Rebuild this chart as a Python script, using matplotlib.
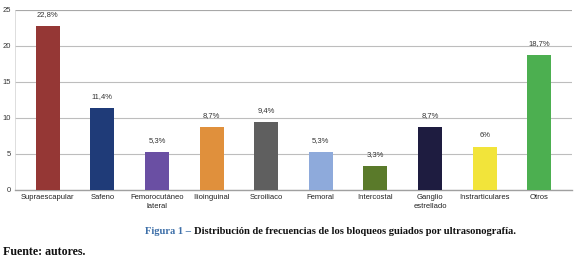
import matplotlib.pyplot as plt
import numpy as np

categorias = ["Supraescapular", "Safeno", "Femorocutáneo\nlateral", "Ilioinguinal",
              "Scroiliaco", "Femoral", "Intercostal", "Ganglio\nestrellado",
              "Instrarticulares", "Otros"]
valores = [22.8, 11.4, 5.3, 8.7, 9.4, 5.3, 3.3, 8.7, 6.0, 18.7]
etiquetas = ["22,8%", "11,4%", "5,3%", "8,7%", "9,4%", "5,3%", "3,3%", "8,7%", "6%", "18,7%"]
colores = ["#953735", "#1f3b78", "#6a4fa3", "#e0903c", "#5f5f5f",
           "#8eaadb", "#5a7a2a", "#1e1c40", "#f2e43a", "#4caf50"]
yticks = [0, 5, 10, 15, 20, 25]

plt.rcParams['font.family'] = ['Liberation Sans', 'DejaVu Sans']

fig = plt.figure(figsize=(5.79, 2.63), dpi=100)
ax = fig.add_axes([15/579, 1 - 190/263, 557/579, 180/263])

x = np.arange(len(categorias))
ax.bar(x, valores, width=0.44, color=colores, zorder=3)
for xi, v, t in zip(x, valores, etiquetas):
    ax.text(xi, v + 1.1, t, ha='center', va='bottom', fontsize=5.5, color='#333333')

ax.set_xlim(-0.6, len(categorias) - 0.4)
ax.set_ylim(0, 25)
ax.set_yticks(yticks)
ax.set_yticklabels([str(t) for t in yticks], fontsize=5.5, color='#333333')
ax.set_xticks(x)
ax.set_xticklabels(categorias, fontsize=5.5, color='#222222', linespacing=1.3)
ax.tick_params(length=0, pad=3)
ax.grid(axis='y', color='#bdbdbd', linewidth=0.8, zorder=0)
for s in ['top', 'right']:
    ax.spines[s].set_visible(False)
ax.spines['left'].set_color('#d8d8d8')
ax.spines['left'].set_linewidth(0.6)
ax.spines['bottom'].set_color('#a0a0a0')
ax.spines['bottom'].set_linewidth(1.0)
ax.axhline(25, color='#a8a8a8', linewidth=1.5, zorder=2)

# pie de figura
t1 = fig.text(145/579, 1 - 231/263, "Figura 1 – ", color='#3d6fa8', fontsize=7.6,
              fontweight='bold', family='Liberation Serif', ha='left', va='center')
fig.canvas.draw()
bb = t1.get_window_extent()
fig.text(bb.x1 / fig.bbox.width, 1 - 231/263,
         "Distribución de frecuencias de los bloqueos guiados por ultrasonografía.",
         color='#111111', fontsize=7.6, fontweight='bold', family='Liberation Serif',
         ha='left', va='center')
fig.text(3/579, 1 - 252/263, "Fuente: autores.", color='#111111', fontsize=8.6,
         fontweight='bold', family='Liberation Serif', ha='left', va='center')

fig.savefig("out.png", dpi=100)
